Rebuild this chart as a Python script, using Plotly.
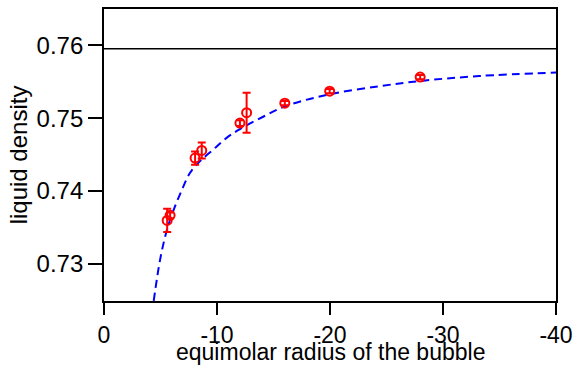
import plotly.graph_objects as go

# measured points
radius = [-5.59, -5.85, -8.06, -8.65, -12.03, -12.62, -16.0, -19.97, -27.98]
density = [0.73596, 0.73665, 0.74452, 0.74558, 0.74933, 0.75076, 0.75207, 0.75372, 0.75565]
density_err = [0.0016, 0.0004, 0.0009, 0.0011, 0.0004, 0.00275, 0.0003, 0.0003, 0.0003]

# fitted curve
fit_radius = [-4.40, -4.97, -5.56, -6.14, -6.88, -7.62, -8.5, -9.67, -10.85, -12.03,
              -14.08, -16.15, -20.0, -24.4, -27.9, -33.2, -40.0]
fit_density = [0.7249, 0.7306, 0.7346, 0.7373, 0.7401, 0.7425, 0.7441, 0.7457, 0.7473, 0.7485,
               0.7502, 0.7517, 0.7533, 0.7544, 0.7551, 0.7558, 0.75628]

# bulk liquid density
bulk_radius = [0, -40]
bulk_density = [0.75955, 0.75955]

x_ticks = [0, -10, -20, -30, -40]
y_ticks = [0.73, 0.74, 0.75, 0.76]

FONT = "Liberation Sans, Arial, sans-serif"

fig = go.Figure()
fig.add_trace(go.Scatter(x=bulk_radius, y=bulk_density, mode="lines",
                         line=dict(color="black", width=1.3), showlegend=False))
fig.add_trace(go.Scatter(x=fit_radius, y=fit_density, mode="lines",
                         line=dict(color="#0000ff", width=2, dash="8px,5px", shape="spline"),
                         showlegend=False))
fig.add_trace(go.Scatter(x=radius, y=density, mode="markers",
                         marker=dict(symbol="circle-open", size=9, color="#ff0000",
                                     line=dict(width=2, color="#ff0000")),
                         error_y=dict(type="data", array=density_err, visible=True,
                                      color="#ff0000", thickness=2, width=4),
                         showlegend=False))

fig.update_layout(
    width=576, height=365,
    margin=dict(l=104, r=20, t=9, b=64),
    paper_bgcolor="white", plot_bgcolor="white",
    font=dict(family=FONT, size=24, color="black"),
    annotations=[dict(text="equimolar radius of the bubble", xref="paper", yref="paper",
                      x=0.5, y=0, xanchor="center", yanchor="middle", yshift=-51,
                      showarrow=False, font=dict(family=FONT, size=23, color="black"))],
)
fig.update_xaxes(range=[0, -40], tickvals=x_ticks, ticktext=[str(v) for v in x_ticks],
                 ticks="outside", ticklen=12, tickwidth=1.5, tickcolor="black",
                 showline=True, linewidth=1.8, linecolor="black", mirror=True,
                 showgrid=False, zeroline=False, automargin=False,
                 tickfont=dict(family=FONT, size=23))
fig.update_yaxes(range=[0.72488, 0.76501], tickvals=y_ticks, ticktext=["%.2f" % v for v in y_ticks],
                 ticks="outside", ticklen=14, tickwidth=1.5, tickcolor="black",
                 showline=True, linewidth=1.8, linecolor="black", mirror=True,
                 showgrid=False, zeroline=False, automargin=False,
                 tickfont=dict(family=FONT, size=24),
                 title=dict(text="liquid density", font=dict(family=FONT, size=24), standoff=2))

fig.write_html("out.html")
